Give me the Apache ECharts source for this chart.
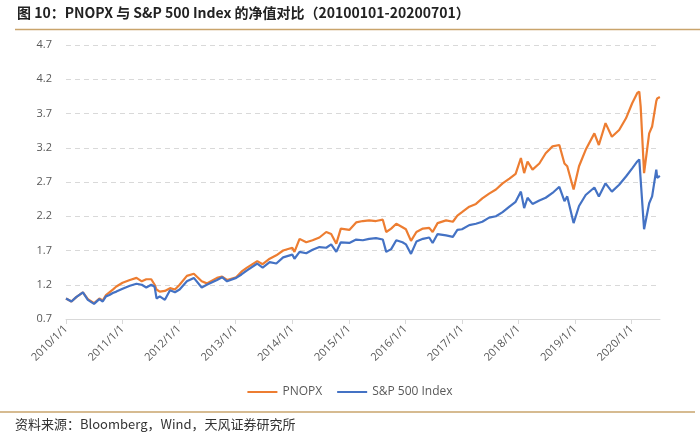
<!DOCTYPE html>
<html>
<head>
<meta charset="utf-8">
<script src="https://cdn.jsdelivr.net/npm/echarts@6/dist/echarts.min.js"></script>
<style>
  html, body { margin: 0; padding: 0; background: #fff; }
  #main { width: 700px; height: 443px; }
</style>
</head>
<body>
<div id="main"></div>
<script>
// 日期
var dates = [
  '2010-01-01','2010-02-05','2010-03-08','2010-04-20','2010-05-22','2010-07-01','2010-08-04','2010-08-26',
  '2010-09-16','2010-10-08','2010-10-30','2010-11-22','2011-01-01','2011-02-17','2011-04-01','2011-05-05',
  '2011-06-03','2011-07-05','2011-07-27','2011-08-08','2011-08-29','2011-10-01','2011-11-03','2011-12-05',
  '2012-01-04','2012-02-20','2012-04-05','2012-05-26','2012-06-28','2012-09-02','2012-10-05','2012-11-06',
  '2013-01-04','2013-02-07','2013-03-15','2013-05-20','2013-06-24','2013-08-08','2013-09-20','2013-11-03',
  '2014-01-01','2014-01-15','2014-02-17','2014-04-01','2014-05-12','2014-06-25','2014-08-08','2014-09-09',
  '2014-10-12','2014-11-10','2015-01-04','2015-02-17','2015-04-01','2015-05-12','2015-06-25','2015-08-08',
  '2015-08-30','2015-10-01','2015-11-03','2015-12-13','2016-01-04','2016-02-06','2016-03-12','2016-04-23',
  '2016-06-03','2016-06-25','2016-07-27','2016-09-20','2016-11-03','2016-12-02','2017-01-01','2017-02-17',
  '2017-04-01','2017-05-12','2017-06-25','2017-08-08','2017-09-20','2017-11-03','2017-12-13','2018-01-16',
  '2018-02-06','2018-02-28','2018-04-01','2018-05-15','2018-06-25','2018-08-08','2018-09-21','2018-10-24',
  '2018-11-11','2018-12-22','2019-01-26','2019-03-10','2019-05-05','2019-06-03','2019-07-16','2019-08-26',
  '2019-10-12','2019-11-25','2020-01-04','2020-02-06','2020-02-19','2020-02-28','2020-03-21','2020-04-23',
  '2020-05-12','2020-06-08','2020-06-14','2020-07-01'
];

// PNOPX 净值
var pnopx = [
  1.00,0.955,1.02,1.09,0.99,0.93,1.00,0.97,
  1.05,1.09,1.13,1.175,1.23,1.27,1.30,1.25,
  1.28,1.28,1.20,1.13,1.10,1.11,1.15,1.13,
  1.20,1.33,1.36,1.25,1.22,1.30,1.32,1.27,
  1.31,1.39,1.45,1.545,1.50,1.58,1.63,1.70,
  1.74,1.68,1.87,1.82,1.85,1.89,1.97,1.94,
  1.80,2.02,2.00,2.11,2.13,2.14,2.13,2.15,
  1.97,2.02,2.09,2.04,2.01,1.84,1.97,2.02,
  2.03,1.97,2.10,2.14,2.12,2.21,2.26,2.34,
  2.38,2.46,2.53,2.59,2.68,2.75,2.82,3.05,
  2.83,3.00,2.88,2.97,3.12,3.22,3.24,2.97,
  2.93,2.59,2.93,3.17,3.41,3.24,3.56,3.36,
  3.46,3.63,3.85,4.00,4.02,3.80,2.83,3.41,
  3.51,3.88,3.92,3.94
];

// S&P 500 Index 净值
var spx = [
  1.00,0.955,1.02,1.09,0.98,0.92,0.99,0.955,
  1.03,1.05,1.08,1.10,1.14,1.185,1.215,1.20,
  1.16,1.20,1.17,1.00,1.03,0.98,1.12,1.09,
  1.13,1.25,1.30,1.16,1.20,1.27,1.31,1.25,
  1.30,1.35,1.41,1.51,1.45,1.53,1.51,1.60,
  1.64,1.58,1.68,1.66,1.71,1.75,1.74,1.79,
  1.68,1.82,1.81,1.86,1.85,1.87,1.88,1.86,
  1.68,1.72,1.85,1.82,1.79,1.65,1.83,1.87,
  1.89,1.81,1.94,1.92,1.90,2.00,2.01,2.07,
  2.09,2.12,2.18,2.20,2.26,2.34,2.41,2.56,
  2.32,2.47,2.38,2.43,2.47,2.54,2.63,2.42,
  2.49,2.10,2.35,2.51,2.62,2.49,2.68,2.56,
  2.66,2.78,2.90,3.00,3.03,2.73,2.01,2.39,
  2.49,2.88,2.76,2.79
];

var yTicks = [0.7, 1.2, 1.7, 2.2, 2.7, 3.2, 3.7, 4.2, 4.7];

// 日期 -> 小数年份
function toYear(s) {
  var p = s.split('-');
  var y = +p[0];
  var t = Date.UTC(y, +p[1] - 1, +p[2]);
  var t0 = Date.UTC(y, 0, 1);
  var t1 = Date.UTC(y + 1, 0, 1);
  return y + (t - t0) / (t1 - t0);
}

function pairs(vals) {
  return dates.map(function (d, i) { return [toYear(d), vals[i]]; });
}

var chart = echarts.init(document.getElementById('main'));

var option = {
  animation: false,
  backgroundColor: '#fff',
  textStyle: { fontFamily: '"Open Sans", "Noto Sans CJK SC", sans-serif' },
  grid: { left: 66, right: 40, top: 45, bottom: 124 },
  legend: {
    data: ['PNOPX', 'S&P 500 Index'],
    left: 'center',
    top: 381,
    icon: 'rect',
    itemWidth: 30,
    itemHeight: 2,
    itemGap: 15,
    textStyle: { color: '#595959', fontSize: 12, fontFamily: '"Open Sans", sans-serif' }
  },
  xAxis: {
    type: 'value',
    min: 2010,
    max: 2020.5,
    interval: 1,
    axisLine: { lineStyle: { color: '#d9d9d9' } },
    axisTick: { show: true, length: 5, lineStyle: { color: '#d9d9d9' } },
    splitLine: { show: false },
    axisLabel: {
      rotate: 45,
      color: '#595959',
      fontSize: 11,
      margin: 8,
      showMaxLabel: false,
      formatter: function (v) {
        return Math.abs(v - Math.round(v)) < 1e-6 ? Math.round(v) + '/1/1' : '';
      }
    }
  },
  yAxis: {
    type: 'value',
    min: yTicks[0],
    max: yTicks[yTicks.length - 1],
    interval: 0.5,
    axisLine: { show: false },
    axisTick: { show: false },
    splitLine: { lineStyle: { color: '#d9d9d9', type: [5, 4] } },
    axisLabel: {
      color: '#595959',
      fontSize: 11,
      margin: 14,
      formatter: function (v) { return v.toFixed(1); }
    }
  },
  series: [
    {
      name: 'PNOPX',
      type: 'line',
      data: pairs(pnopx),
      showSymbol: false,
      color: '#ED7D31',
      lineStyle: { width: 2.2, color: '#ED7D31' }
    },
    {
      name: 'S&P 500 Index',
      type: 'line',
      data: pairs(spx),
      showSymbol: false,
      color: '#4472C4',
      lineStyle: { width: 2.2, color: '#4472C4' }
    }
  ],
  graphic: [
    {
      type: 'text',
      left: 17,
      top: 6,
      style: {
        text: '图 10：PNOPX 与 S&P 500 Index 的净值对比（20100101-20200701）',
        fill: '#222',
        font: 'bold 14px "Noto Sans CJK SC", sans-serif'
      }
    },
    {
      type: 'line',
      shape: { x1: 15, y1: 29.5, x2: 700, y2: 29.5 },
      style: { stroke: '#c9a46c', lineWidth: 1.5 }
    },
    {
      type: 'line',
      shape: { x1: 0, y1: 412, x2: 695, y2: 412 },
      style: { stroke: '#c9a46c', lineWidth: 1.5 }
    },
    {
      type: 'text',
      left: 15,
      top: 418,
      style: {
        text: '资料来源：Bloomberg，Wind，天风证券研究所',
        fill: '#333',
        font: '13px "Noto Sans CJK SC", sans-serif'
      }
    }
  ]
};

chart.setOption(option);
</script>
</body>
</html>
